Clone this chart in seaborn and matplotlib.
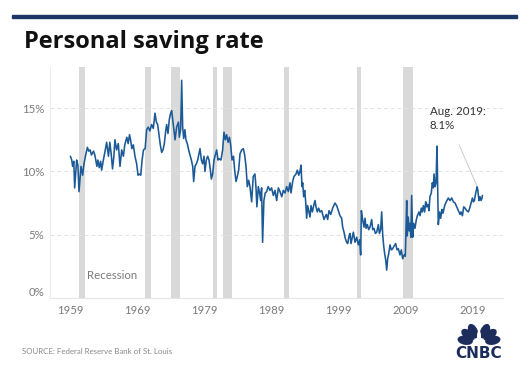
import numpy as np
import pandas as pd
import matplotlib
matplotlib.use("Agg")
import matplotlib.pyplot as plt
import matplotlib.transforms as mtransforms
from matplotlib.patches import Ellipse, Rectangle
import seaborn as sns

# ---------------- data ----------------
t_1960s = [1959.0, 1959.2, 1959.33, 1959.5, 1959.63, 1959.92, 1960.1, 1960.27, 1960.56, 1960.8,
           1961.0, 1961.25, 1961.5, 1961.7, 1961.9, 1962.1, 1962.4, 1962.6, 1962.9, 1963.05,
           1963.25, 1963.45, 1963.6, 1963.85, 1964.1, 1964.33, 1964.6, 1964.8, 1965.0, 1965.2,
           1965.4, 1965.55, 1965.8, 1966.05, 1966.3, 1966.55, 1966.8, 1967.0, 1967.3, 1967.5,
           1967.7, 1967.85, 1968.05, 1968.26, 1968.5, 1968.75, 1968.95, 1969.15, 1969.35, 1969.55,
           1969.75]
r_1960s = [11.2, 10.9, 10.4, 10.8, 8.7, 10.9, 10.5, 8.4, 10.4, 9.7,
           10.6, 11.3, 11.9, 11.6, 11.7, 11.3, 11.6, 11.3, 10.4, 10.9,
           10.3, 10.8, 10.1, 10.9, 11.6, 12.3, 11.2, 12.3, 11.4, 10.2,
           11.2, 12.5, 11.7, 12.2, 10.4, 11.7, 11.2, 12.1, 12.7, 12.2,
           12.9, 12.5, 11.8, 12.1, 11.2, 10.6, 9.7, 9.8, 9.7, 10.9,
           11.7]

t_1970s = [1970.0, 1970.22, 1970.46, 1970.7, 1970.95, 1971.2, 1971.45, 1971.65, 1971.84, 1972.04,
           1972.23, 1972.43, 1972.63, 1972.82, 1973.0, 1973.16, 1973.36, 1973.55, 1973.75, 1973.9,
           1974.05, 1974.2, 1974.4, 1974.63, 1974.9, 1975.03, 1975.22, 1975.37, 1975.52, 1975.67,
           1975.85, 1976.0, 1976.2, 1976.4, 1976.6, 1976.8, 1977.0, 1977.14, 1977.33, 1977.53,
           1977.73, 1977.92, 1978.07, 1978.27, 1978.46, 1978.66, 1978.8, 1979.0, 1979.2, 1979.4,
           1979.6, 1979.74, 1979.93]
r_1970s = [11.8, 13.3, 13.5, 13.2, 13.7, 13.4, 14.6, 13.9, 13.7, 12.9,
           12.1, 11.5, 11.7, 12.2, 13.1, 13.7, 13.0, 14.1, 14.6, 14.8,
           14.1, 13.4, 12.5, 13.5, 13.9, 12.7, 13.3, 17.2, 13.5, 12.6,
           13.3, 12.5, 12.2, 11.7, 11.3, 10.9, 10.4, 9.2, 10.4, 10.6,
           10.9, 11.4, 11.8, 10.9, 10.6, 11.2, 10.0, 10.9, 11.2, 10.9,
           10.1, 9.4, 9.8]

t_1980s = [1980.13, 1980.33, 1980.52, 1980.72, 1980.9, 1981.16, 1981.4, 1981.6, 1981.8, 1981.99,
           1982.2, 1982.4, 1982.58, 1982.78, 1983.0, 1983.17, 1983.37, 1983.56, 1983.76, 1983.96,
           1984.2, 1984.45, 1984.64, 1984.84, 1985.03, 1985.23, 1985.42, 1985.67, 1985.9, 1986.15,
           1986.3, 1986.44, 1986.65, 1986.84, 1987.0, 1987.13, 1987.28, 1987.47, 1987.67, 1987.87,
           1988.1, 1988.37, 1988.6, 1988.86, 1989.1, 1989.35, 1989.6, 1989.84]
r_1980s = [10.9, 11.3, 11.7, 10.9, 11.0, 10.9, 11.7, 13.1, 12.5, 12.9,
           12.3, 12.7, 12.1, 10.9, 11.2, 10.1, 9.2, 9.6, 10.1, 11.4,
           11.7, 11.8, 11.3, 10.4, 8.8, 9.3, 8.8, 7.6, 9.6, 9.8,
           8.8, 7.2, 8.8, 8.3, 7.7, 8.7, 4.4, 7.7, 8.3, 8.4,
           8.8, 8.5, 8.7, 8.1, 8.5, 7.7, 8.7, 8.4]

t_1990s = [1990.1, 1990.33, 1990.58, 1990.82, 1991.07, 1991.31, 1991.46, 1991.7, 1991.9, 1992.2,
           1992.39, 1992.6, 1992.78, 1992.93, 1993.08, 1993.18, 1993.32, 1993.47, 1993.62, 1993.76,
           1993.91, 1994.06, 1994.25, 1994.4, 1994.6, 1994.8, 1994.99, 1995.14, 1995.33, 1995.53,
           1995.73, 1995.97, 1996.12, 1996.32, 1996.46, 1996.66, 1996.85, 1997.05, 1997.3, 1997.59,
           1997.93, 1998.18, 1998.42, 1998.67, 1998.91, 1999.06, 1999.26, 1999.45, 1999.65, 1999.8]
r_1990s = [8.0, 8.5, 8.3, 8.8, 8.4, 9.1, 8.3, 9.2, 9.6, 9.8,
           10.1, 9.7, 10.0, 10.5, 8.8, 9.1, 8.0, 8.5, 7.6, 6.3,
           7.3, 6.9, 6.4, 7.3, 6.8, 7.3, 7.7, 7.2, 6.8, 7.1,
           6.8, 6.9, 6.6, 6.2, 6.4, 6.6, 6.2, 6.9, 6.6, 7.1,
           7.5, 7.3, 6.9, 6.5, 6.3, 5.6, 5.2, 4.7, 4.4, 4.3]

t_2000s = [2000.0, 2000.14, 2000.29, 2000.48, 2000.63, 2000.88, 2001.12, 2001.37, 2001.56, 2001.71,
           2001.81, 2002.0, 2002.2, 2002.35, 2002.5, 2002.69, 2002.89, 2003.08, 2003.33, 2003.48,
           2003.67, 2003.87, 2004.07, 2004.31, 2004.46, 2004.65, 2004.8, 2004.95, 2005.1, 2005.24,
           2005.39, 2005.54, 2005.68, 2005.83, 2006.03, 2006.22, 2006.42, 2006.62, 2006.86, 2007.06,
           2007.25, 2007.5, 2007.69, 2007.89, 2008.09, 2008.28, 2008.38, 2008.48, 2008.56, 2008.7,
           2008.85, 2008.97, 2009.1, 2009.21, 2009.36, 2009.5, 2009.7, 2009.9]
r_2000s = [4.9, 5.1, 4.3, 4.8, 5.2, 4.4, 4.8, 4.2, 4.6, 3.4,
           6.9, 6.2, 5.6, 6.3, 5.5, 5.8, 5.4, 5.6, 6.2, 5.4,
           5.5, 5.1, 5.2, 5.8, 5.1, 5.4, 6.8, 5.0, 4.1, 3.5,
           3.0, 2.2, 3.1, 3.5, 4.2, 3.8, 3.9, 4.1, 4.3, 3.8,
           3.9, 3.4, 3.8, 3.1, 3.4, 3.3, 5.4, 7.7, 4.9, 6.4,
           5.3, 5.9, 4.8, 8.1, 4.8, 5.9, 5.5, 6.2]

t_2010s = [2010.05, 2010.3, 2010.45, 2010.63, 2010.78, 2010.93, 2011.12, 2011.27, 2011.42, 2011.6,
           2011.76, 2011.9, 2012.1, 2012.25, 2012.4, 2012.5, 2012.65, 2012.8, 2012.94, 2013.08,
           2013.13, 2013.33, 2013.48, 2013.67, 2013.82, 2014.07, 2014.3, 2014.6, 2014.86, 2015.1,
           2015.35, 2015.6, 2015.84, 2016.09, 2016.33, 2016.48, 2016.68, 2016.87, 2017.07, 2017.31,
           2017.56, 2017.8, 2017.95, 2018.15, 2018.3, 2018.44, 2018.64, 2018.85, 2018.95, 2019.05,
           2019.13, 2019.27, 2019.42, 2019.57, 2019.62]
r_2010s = [6.5, 6.8, 6.5, 7.1, 6.8, 7.3, 6.8, 7.6, 7.2, 7.4,
           6.9, 8.0, 8.3, 9.1, 8.7, 9.8, 8.8, 9.1, 12.0, 7.7,
           5.8, 6.8, 6.3, 7.0, 6.7, 7.3, 7.6, 7.9, 7.7, 7.9,
           7.6, 7.5, 7.2, 6.9, 6.6, 6.8, 6.5, 7.2, 7.1, 6.9,
           6.8, 7.2, 7.5, 7.9, 7.6, 7.7, 8.3, 8.8, 8.5, 8.0,
           7.7, 8.0, 7.7, 7.9, 8.1]

# NBER recessions (decimal years)
rec_start = [1960.25, 1969.92, 1973.83, 1980.0, 1981.5, 1990.5, 2001.17, 2007.92]
rec_end = [1961.13, 1970.83, 1975.17, 1980.5, 1982.83, 1991.17, 2001.83, 2009.42]

y_ticks = [0, 5, 10, 15]
y_labels = ["0%", "5%", "10%", "15%"]
x_labels = ["1959", "1969", "1979", "1989", "1999", "2009", "2019"]
x_label_pos = [1958.95, 1968.8, 1978.65, 1988.5, 1998.45, 2008.4, 2018.2]

title = "Personal saving rate"
source = "SOURCE: Federal Reserve Bank of St. Louis"
note = "Aug. 2019:\n8.1%"
note_point = (2018.85, 8.8)

# ---------------- build ----------------
years = t_1960s + t_1970s + t_1980s + t_1990s + t_2000s + t_2010s
rates = r_1960s + r_1970s + r_1980s + r_1990s + r_2000s + r_2010s
df = pd.DataFrame({"year": years, "rate": rates})

sns.set_theme(style="white")
plt.rcParams["font.family"] = ["Lato", "DejaVu Sans"]

W, H = 529, 373
fig = plt.figure(figsize=(W / 100, H / 100), dpi=100)
fig.patch.set_facecolor("white")

# top navy rule
fig.patches.append(Rectangle((12 / W, 1 - 18 / H), 505 / W, 3 / H,
                             transform=fig.transFigure, color="#1c3766", zorder=5))

ax = fig.add_axes([50 / W, 1 - 298 / H, 453 / W, 231 / H])
ax.set_facecolor("white")

for s, e in zip(rec_start, rec_end):
    ax.axvspan(s, e, color="#d9d9d9", lw=0, zorder=0)

for yv in y_ticks[1:]:
    ax.axhline(yv, color="#e2e2e2", lw=0.7, ls=(0, (4, 3)), zorder=0.5)

sns.lineplot(data=df, x="year", y="rate", ax=ax, color="#1b5a96", lw=1.15,
             zorder=3, sort=False)

ax.set_xlim(1956.0, 2022.65)
ax.set_ylim(0, 18.25)
ax.set_xlabel("")
ax.set_ylabel("")
ax.set_xticks(x_label_pos)
ax.set_xticklabels(x_labels)
ax.set_yticks(y_ticks)
ax.set_yticklabels(y_labels)
ax.tick_params(axis="both", length=0, colors="#7a7a7a", labelsize=8.2)
ax.tick_params(axis="x", pad=5.2)
ax.tick_params(axis="y", pad=4.3)

for side in ["top", "right"]:
    ax.spines[side].set_visible(False)
ax.spines["left"].set_color("#ececec")
ax.spines["left"].set_linewidth(0.7)
ax.spines["bottom"].set_color("#e6e6e6")
ax.spines["bottom"].set_linewidth(0.8)

# lift the 0% label a little, as in the original
lab0 = ax.get_yticklabels()[0]
lab0.set_transform(lab0.get_transform() +
                   mtransforms.ScaledTranslation(0, 0.07, fig.dpi_scale_trans))

ax.text(1961.4, 1.8, "Recession", color="#7a7a7a", fontsize=8.2, va="center", ha="left")

ax.text(2011.9, 15.15, note, color="#333333", fontsize=8.3, va="top", ha="left",
        linespacing=1.35)
ax.annotate("", xy=note_point, xytext=(2016.2, 12.1),
            arrowprops=dict(arrowstyle="-", color="#c4c4c4", lw=0.6,
                            shrinkA=0, shrinkB=0))

fig.text(24 / W, 1 - 48.5 / H, title, fontsize=17, fontweight="bold",
         color="#111111", va="baseline", ha="left", family=["Open Sans", "DejaVu Sans"])
fig.text(22 / W, 1 - 352 / H, source, fontsize=5.7, color="#888888",
         va="center", ha="left")

# CNBC logo (simplified peacock + wordmark)
lax = fig.add_axes([452 / W, 1 - 362 / H, 54 / W, 44 / H])
lax.set_xlim(0, 54)
lax.set_ylim(0, 44)
lax.axis("off")
navy = "#1c2d5c"
cx, cy = 27, 19.5
for ang in [10, 38, 65, 115, 142, 170]:
    rad = np.deg2rad(ang)
    ex = cx + 14 * np.cos(rad)
    ey = cy + 12.5 * np.sin(rad)
    lax.add_patch(Ellipse((ex, ey), 15.5, 9, angle=ang, color=navy, lw=0))
lax.add_patch(Ellipse((cx, cy + 6), 4, 12, angle=0, color="white", lw=0))
lax.text(27, 8.5, "CNBC", fontsize=11, fontweight="heavy", color=navy,
         ha="center", va="center", family=["DejaVu Sans"])

fig.savefig("out.png", dpi=100, facecolor="white")
